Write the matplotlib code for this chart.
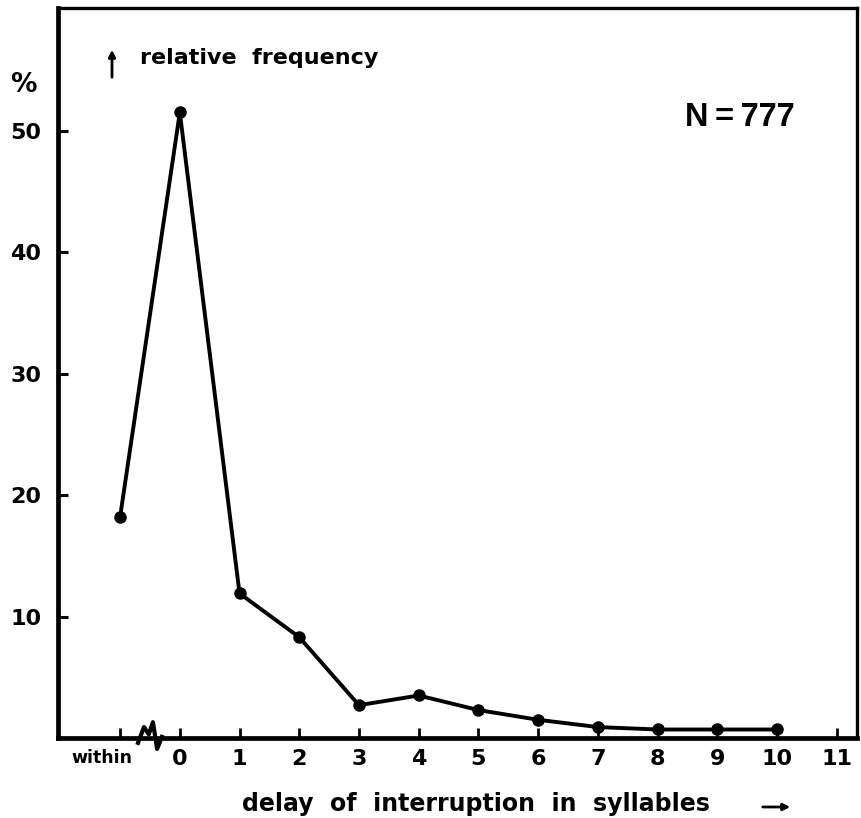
import matplotlib
matplotlib.use("Agg")
import matplotlib.pyplot as plt
import matplotlib.transforms as mtransforms
import numpy as np

# Data
categories = ["within", "0", "1", "2", "3", "4", "5", "6", "7", "8", "9", "10", "11"]
x_pos = [-1, 0, 1, 2, 3, 4, 5, 6, 7, 8, 9, 10, 11]
within_value = 18.2
delay_x = [0, 1, 2, 3, 4, 5, 6, 7, 8, 9, 10]
delay_values = [51.5, 11.9, 8.3, 2.7, 3.5, 2.3, 1.5, 0.9, 0.7, 0.7, 0.7]
y_ticks = [10, 20, 30, 40, 50]

plt.rcParams['font.family'] = ['DejaVu Sans']
plt.rcParams['font.weight'] = 'bold'

fig = plt.figure(figsize=(8.61, 8.18), dpi=100)
ax = fig.add_axes([58/861, 1-738/818, (857-58)/861, (738-8)/818])

xs = [-1] + delay_x
ys = [within_value] + delay_values
ax.plot(xs, ys, color='black', lw=2.8, marker='o', ms=8, solid_joinstyle='round', zorder=4)

ax.set_xlim(-2.04, 11.34)
ax.set_ylim(0, 60.1)

for s in ['left', 'bottom']:
    ax.spines[s].set_linewidth(3.4)
for s in ['top', 'right']:
    ax.spines[s].set_linewidth(2.4)

ax.set_yticks(y_ticks)
ax.set_yticklabels([str(v) for v in y_ticks], fontsize=16, fontweight='bold')
ax.tick_params(axis='y', direction='in', length=7, width=2.2, pad=12)

ax.set_xticks(x_pos)
ax.set_xticklabels(categories, fontsize=16, fontweight='bold')
ax.tick_params(axis='x', direction='in', length=7, width=2.0, pad=8)
offset = mtransforms.ScaledTranslation(-18/100, 0, fig.dpi_scale_trans)
for lbl in ax.get_xticklabels():
    if lbl.get_text() == "within":
        lbl.set_fontsize(12.5)
        lbl.set_transform(lbl.get_transform() + offset)

# axis break zigzag
zx = np.array([-0.70, -0.60, -0.52, -0.45, -0.38, -0.30])
zy = np.array([-0.4, 0.9, 0.3, 1.3, -0.9, 0.1])
ax.plot(zx, zy, color='black', lw=3, clip_on=False, zorder=5)

# texts
fig.text(23/861, 1-85/818, "%", fontsize=19, fontweight='bold', ha='center', va='center')
fig.text(140/861, 1-58/818, "relative  frequency", fontsize=16, fontweight='bold', ha='left', va='center')
fig.add_artist(matplotlib.patches.FancyArrowPatch(
    (112/861, 1-80/818), (112/861, 1-47/818), transform=fig.transFigure,
    arrowstyle='-|>', color='black', lw=2, mutation_scale=10))
fig.text(740/861, 1-118/818, "N\u2009=\u2009777", fontsize=23.5, fontweight='bold', ha='center', va='center',
         family=['Liberation Sans', 'DejaVu Sans'])
fig.text(476/861, 1-804/818, "delay  of  interruption  in  syllables", fontsize=17,
         fontweight='bold', ha='center', va='center')
fig.add_artist(matplotlib.patches.FancyArrowPatch(
    (760/861, 1-807/818), (793/861, 1-807/818), transform=fig.transFigure,
    arrowstyle='-|>', color='black', lw=2, mutation_scale=10))

fig.savefig("out.png", dpi=100)
